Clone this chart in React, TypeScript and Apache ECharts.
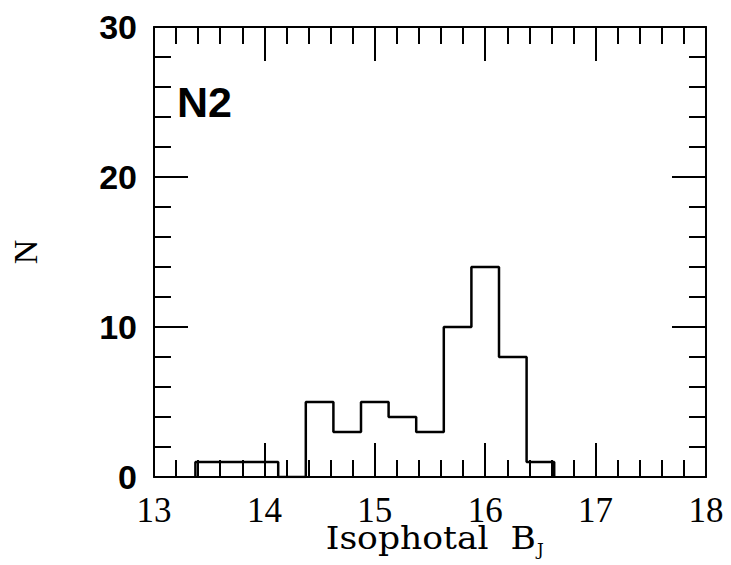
import React, { useEffect, useRef } from 'react';
import * as echarts from 'echarts';

// Histogram bin edges (Isophotal B_J) and counts (N)
const binEdges = [13.375, 13.625, 13.875, 14.125, 14.375, 14.625, 14.875, 15.125, 15.375, 15.625, 15.875, 16.125, 16.375, 16.625];
const binCounts = [1, 1, 1, 0, 5, 3, 5, 4, 3, 10, 14, 8, 1];
const xTicks = [13, 14, 15, 16, 17, 18];
const yTicks = [0, 10, 20, 30];
const panelLabel = 'N2';
const xTitle = 'Isophotal  B';
const xTitleSub = 'J';
const yTitle = 'N';

export default function App() {
  const ref = useRef<HTMLDivElement>(null);
  useEffect(() => {
    if (!ref.current) return;
    const chart = echarts.init(ref.current, null, { renderer: 'svg' });

    const pts: number[][] = [[binEdges[0], 0]];
    for (let i = 0; i < binCounts.length; i++) pts.push([binEdges[i + 1], binCounts[i]]);
    pts.push([binEdges[binEdges.length - 1], 0]);

    const base = {
      type: 'value',
      axisLine: { show: true, onZero: false, lineStyle: { color: '#000', width: 2 } },
      axisTick: { show: true, inside: true, length: 34, lineStyle: { color: '#000', width: 2 } },
      minorTick: { show: true, splitNumber: 5, length: 17, lineStyle: { color: '#000', width: 2 } },
      splitLine: { show: false },
      minorSplitLine: { show: false },
    };
    const xMin = xTicks[0], xMax = xTicks[xTicks.length - 1], xInt = xTicks[1] - xTicks[0];
    const yMin = yTicks[0], yMax = yTicks[yTicks.length - 1], yInt = yTicks[1] - yTicks[0];

    chart.setOption({
      animation: false,
      backgroundColor: '#fff',
      grid: { left: 150, top: 27, right: 25, bottom: 88, containLabel: false },
      xAxis: [
        {
          ...base, min: xMin, max: xMax, interval: xInt, position: 'bottom',
          axisLabel: { margin: 19, lineHeight: 28, fontFamily: 'Liberation Serif', fontSize: 35, color: '#000' },
        },
        {
          ...base, min: xMin, max: xMax, interval: xInt, position: 'top',
          axisLabel: { show: false },
        },
      ],
      yAxis: [
        {
          ...base, min: yMin, max: yMax, interval: yInt, position: 'left',
          axisLabel: { margin: 17, fontFamily: 'Liberation Sans', fontWeight: 'bold', fontSize: 34, color: '#000' },
          name: yTitle, nameLocation: 'middle', nameGap: 112,
          nameTextStyle: { fontFamily: 'Liberation Serif', fontSize: 34, color: '#000' },
        },
        {
          ...base, min: yMin, max: yMax, interval: yInt, position: 'right',
          axisLabel: { show: false },
        },
      ],
      series: [
        {
          type: 'line', xAxisIndex: 0, yAxisIndex: 0, step: 'start', data: pts,
          symbol: 'none', showSymbol: false,
          lineStyle: { color: '#000', width: 2.5 }, z: 5,
        },
      ],
      graphic: [
        {
          type: 'text', left: 177, top: 80,
          style: { text: panelLabel, fontFamily: 'Liberation Sans', fontWeight: 'bold', fontSize: 43, fill: '#000' },
        },
        {
          type: 'text', x: 536, y: 538, scaleX: 1.08,
          style: { text: xTitle, fontFamily: 'DejaVu Serif', fontSize: 32, lineHeight: 24, fill: '#000', textAlign: 'right', textVerticalAlign: 'middle' },
        },
        {
          type: 'text', x: 537, y: 549,
          style: { text: xTitleSub, fontFamily: 'DejaVu Serif', fontSize: 17, fill: '#000', textAlign: 'left', textVerticalAlign: 'middle' },
        },
      ],
    });
    return () => chart.dispose();
  }, []);
  return <div ref={ref} style={{ position: 'absolute', left: 0, top: 0, width: 731, height: 565 }} />;
}
